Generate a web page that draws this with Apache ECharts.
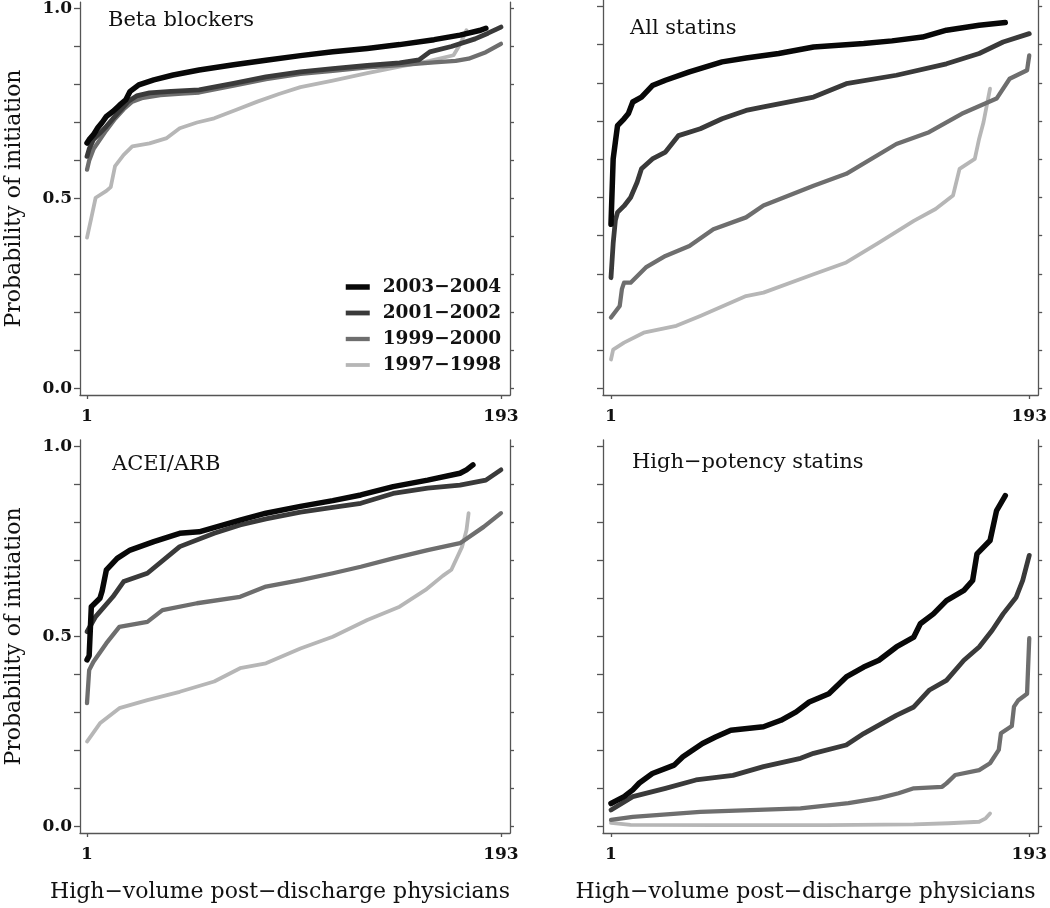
<!DOCTYPE html>
<html><head><meta charset="utf-8">
<script src="https://cdn.jsdelivr.net/npm/echarts@6/dist/echarts.min.js"></script>
<style>html,body{margin:0;padding:0;background:#fff}#c{width:1050px;height:908px}</style>
</head><body><div id="c"></div>
<script>
// ---------- data ----------
const seriesNames = ['2003\u22122004', '2001\u22122002', '1999\u22122000', '1997\u22121998'];
const panelTitles = ['Beta blockers', 'All statins', 'ACEI/ARB', 'High\u2212potency statins'];
const xTickValues = [1, 193];
const yTickValues = [0, 0.1, 0.2, 0.3, 0.4, 0.5, 0.6, 0.7, 0.8, 0.9, 1.0];
const yLabelValues = [0, 0.5, 1.0];
const yAxisTitle = 'Probability of initiation';
const xAxisTitle = 'High\u2212volume post\u2212discharge physicians';

// Beta blockers
const beta2003 = [[1,0.646],[2,0.655],[4,0.668],[6,0.686],[8,0.70],[10,0.716],[13,0.729],[16,0.745],[19,0.76],[21,0.782],[25,0.799],[32,0.812],[41,0.825],[53,0.838],[69,0.852],[84,0.864],[100,0.876],[115,0.886],[131,0.895],[146,0.905],[162,0.918],[174,0.93],[183,0.942],[186,0.948]];
const beta2001 = [[1,0.611],[2,0.63],[4,0.655],[7,0.672],[10,0.69],[13,0.71],[17,0.735],[20,0.755],[24,0.77],[30,0.778],[40,0.782],[53,0.786],[69,0.803],[84,0.82],[100,0.833],[115,0.842],[131,0.85],[146,0.857],[155,0.865],[160,0.886],[170,0.9],[181,0.92],[187,0.935],[193,0.951]];
const beta1999 = [[1,0.576],[2,0.6],[4,0.63],[7,0.655],[10,0.68],[14,0.71],[18,0.735],[22,0.755],[27,0.765],[35,0.772],[45,0.776],[53,0.779],[69,0.797],[84,0.814],[100,0.828],[115,0.836],[131,0.845],[146,0.851],[162,0.858],[172,0.862],[178,0.868],[186,0.885],[193,0.907]];
const beta1997 = [[1,0.397],[3,0.449],[5,0.502],[10,0.52],[12,0.53],[14,0.585],[18,0.615],[22,0.637],[30,0.645],[38,0.659],[44,0.685],[52,0.70],[60,0.711],[70,0.733],[80,0.755],[90,0.775],[100,0.793],[115,0.81],[131,0.83],[146,0.847],[160,0.862],[171,0.877],[174,0.905],[177,0.943]];

// All statins
const all2003 = [[1,0.43],[2,0.601],[3,0.645],[4,0.688],[7,0.706],[9,0.72],[11,0.75],[15,0.763],[20,0.793],[26,0.807],[37,0.829],[52,0.855],[63,0.865],[78,0.877],[94,0.894],[117,0.903],[130,0.91],[144,0.92],[155,0.938],[170,0.951],[182,0.958]];
const all2001 = [[1,0.29],[2,0.38],[3,0.44],[4,0.461],[7,0.478],[10,0.5],[13,0.54],[15,0.575],[20,0.601],[26,0.619],[32,0.662],[42,0.68],[52,0.706],[63,0.728],[71,0.737],[94,0.763],[109,0.798],[132,0.82],[155,0.85],[170,0.877],[181,0.907],[193,0.929]];
const all1999 = [[1,0.186],[5,0.216],[6,0.26],[7,0.277],[10,0.277],[17,0.317],[26,0.347],[37,0.373],[48,0.417],[63,0.448],[71,0.479],[94,0.531],[109,0.562],[132,0.64],[147,0.671],[162,0.719],[178,0.759],[184,0.811],[192,0.833],[193,0.872]];
const all1997 = [[1,0.076],[2,0.102],[7,0.12],[16,0.146],[31,0.164],[42,0.19],[63,0.242],[71,0.251],[94,0.299],[109,0.33],[124,0.382],[140,0.439],[150,0.47],[158,0.505],[161,0.575],[168,0.601],[170,0.654],[172,0.697],[175,0.785]];

// ACEI/ARB
const acei2003 = [[1,0.439],[2,0.45],[3,0.579],[7,0.601],[8,0.62],[10,0.676],[15,0.706],[21,0.728],[32,0.75],[44,0.772],[53,0.776],[72,0.807],[84,0.825],[100,0.843],[115,0.858],[128,0.873],[143,0.895],[159,0.912],[174,0.93],[177,0.939],[180,0.952]];
const acei2001 = [[1,0.513],[5,0.553],[13,0.605],[18,0.645],[29,0.667],[44,0.737],[60,0.772],[72,0.794],[84,0.81],[100,0.828],[115,0.84],[128,0.851],[143,0.877],[159,0.891],[174,0.899],[186,0.912],[193,0.939]];
const acei1999 = [[1,0.325],[2,0.412],[4,0.434],[10,0.483],[16,0.526],[29,0.539],[36,0.57],[52,0.588],[72,0.605],[84,0.632],[100,0.649],[115,0.667],[128,0.684],[143,0.706],[159,0.728],[174,0.746],[185,0.789],[193,0.825]];
const acei1997 = [[1,0.224],[7,0.272],[16,0.312],[29,0.333],[44,0.355],[60,0.382],[72,0.417],[84,0.43],[100,0.469],[115,0.5],[131,0.544],[146,0.579],[158,0.623],[166,0.66],[170,0.676],[175,0.737],[177,0.78],[178,0.825]];

// High-potency statins
const high2003 = [[1,0.061],[7,0.079],[11,0.097],[14,0.115],[20,0.14],[30,0.162],[34,0.184],[43,0.219],[49,0.236],[56,0.254],[71,0.263],[79,0.28],[86,0.302],[92,0.328],[101,0.35],[109,0.394],[117,0.42],[124,0.438],[132,0.473],[140,0.499],[143,0.534],[149,0.56],[155,0.595],[163,0.622],[167,0.648],[169,0.718],[175,0.753],[178,0.832],[182,0.871]];
const high2001 = [[1,0.044],[11,0.079],[26,0.101],[40,0.123],[57,0.135],[71,0.158],[88,0.18],[94,0.193],[109,0.215],[117,0.245],[132,0.293],[140,0.315],[147,0.359],[155,0.385],[163,0.438],[170,0.473],[176,0.517],[181,0.56],[187,0.604],[190,0.648],[193,0.714]];
const high1999 = [[1,0.018],[11,0.026],[42,0.039],[88,0.048],[110,0.062],[124,0.075],[133,0.088],[140,0.101],[153,0.105],[155,0.114],[159,0.136],[170,0.149],[175,0.167],[179,0.202],[180,0.246],[185,0.265],[186,0.316],[188,0.333],[192,0.35],[193,0.496]];
const high1997 = [[1,0.01],[10,0.005],[50,0.004],[100,0.004],[140,0.006],[156,0.009],[170,0.013],[173,0.022],[175,0.035]];

const panelData = [
  [beta2003, beta2001, beta1999, beta1997],
  [all2003, all2001, all1999, all1997],
  [acei2003, acei2001, acei1999, acei1997],
  [high2003, high2001, high1999, high1997]
];

// ---------- styling / layout ----------
const FONT = 'DejaVu Serif';
const lineColors = ['#080808', '#3a3a3a', '#6e6e6e', '#b6b6b6'];
const lineWidths = [5.5, 4.8, 4.3, 3.8];
const axisColor = '#555';

const grids = [
  {left: 80,  top: 0,   width: 430, height: 395, xmin: -2.25, xmax: 197.2, ymin: -0.017, ymax: 1.017},
  {left: 603, top: 0,   width: 436, height: 395, xmin: -2.67, xmax: 197.1, ymin: -0.017, ymax: 1.017},
  {left: 80,  top: 440, width: 430, height: 393, xmin: -2.25, xmax: 197.2, ymin: -0.0166, ymax: 1.0176},
  {left: 603, top: 440, width: 436, height: 393, xmin: -2.67, xmax: 197.1, ymin: -0.0166, ymax: 1.0176}
];
const titlePos = [[108, 10], [630, 18], [112, 454], [632, 452]];

const option = {
  backgroundColor: '#fff',
  animation: false,
  textStyle: {fontFamily: FONT},
  title: panelTitles.map((t, i) => ({
    text: t, left: titlePos[i][0], top: titlePos[i][1], padding: 0,
    textStyle: {fontFamily: FONT, fontSize: 21, fontWeight: 'normal', color: '#111'}
  })),
  legend: {
    data: seriesNames.map((n, k) => ({
      name: n,
      itemStyle: {opacity: 0},
      lineStyle: {width: lineWidths[k], color: lineColors[k], cap: 'butt'}
    })),
    orient: 'vertical',
    left: 343, top: 277,
    itemWidth: 24, itemHeight: 2, itemGap: 6,
    padding: 0,
    itemStyle: {opacity: 0},
    textStyle: {fontFamily: FONT, fontSize: 18.5, fontWeight: 'bold', color: '#111', padding: [0, 0, 0, 8], lineHeight: 20}
  },
  grid: grids.map(g => ({left: g.left, top: g.top, width: g.width, height: g.height, containLabel: false})),
  xAxis: grids.map((g, i) => ({
    type: 'value', gridIndex: i, min: g.xmin, max: g.xmax, position: 'bottom',
    splitLine: {show: false},
    axisLine: {show: true, onZero: false, lineStyle: {color: axisColor, width: 1.3}},
    axisTick: {show: true, length: 4, customValues: xTickValues, lineStyle: {color: axisColor, width: 1.3}},
    axisLabel: {show: true, customValues: xTickValues, margin: 13, fontFamily: FONT, fontSize: 17, fontWeight: 'bold', color: '#111'},
    name: i >= 2 ? xAxisTitle : '',
    nameLocation: 'middle', nameGap: 48,
    nameTextStyle: {fontFamily: FONT, fontSize: 22, color: '#111', padding: [0, 30, 0, 0]}
  })),
  yAxis: [],
  series: []
};

grids.forEach((g, i) => {
  option.yAxis.push({
    type: 'value', gridIndex: i, min: g.ymin, max: g.ymax, position: 'left',
    splitLine: {show: false},
    axisLine: {show: true, onZero: false, lineStyle: {color: axisColor, width: 1.3}},
    axisTick: {show: true, length: 6, customValues: yTickValues, lineStyle: {color: axisColor, width: 1.3}},
    axisLabel: {show: i % 2 === 0, customValues: yLabelValues, margin: 8,
      formatter: v => v.toFixed(1), fontFamily: FONT, fontSize: 17, fontWeight: 'bold', color: '#111'},
    name: i % 2 === 0 ? yAxisTitle : '',
    nameLocation: 'middle', nameGap: 55,
    nameTextStyle: {fontFamily: FONT, fontSize: 22, color: '#111'}
  });
  option.yAxis.push({
    type: 'value', gridIndex: i, min: g.ymin, max: g.ymax, position: 'right',
    splitLine: {show: false},
    axisLine: {show: true, onZero: false, lineStyle: {color: axisColor, width: 1.3}},
    axisTick: {show: true, length: 4, customValues: yTickValues, lineStyle: {color: axisColor, width: 1.3}},
    axisLabel: {show: false}
  });
});

panelData.forEach((sets, i) => {
  // draw lightest first so darker lines sit on top
  for (let k = sets.length - 1; k >= 0; k--) {
    option.series.push({
      type: 'line', name: seriesNames[k], xAxisIndex: i, yAxisIndex: i * 2,
      data: sets[k], showSymbol: false, symbol: 'none', smooth: false,
      lineStyle: {color: lineColors[k], width: lineWidths[k], cap: 'round', join: 'round'},
      itemStyle: {color: lineColors[k]},
      emphasis: {disabled: true}
    });
  }
});

const chart = echarts.init(document.getElementById('c'), null, {renderer: 'canvas'});
chart.setOption(option);
</script>
</body></html>
